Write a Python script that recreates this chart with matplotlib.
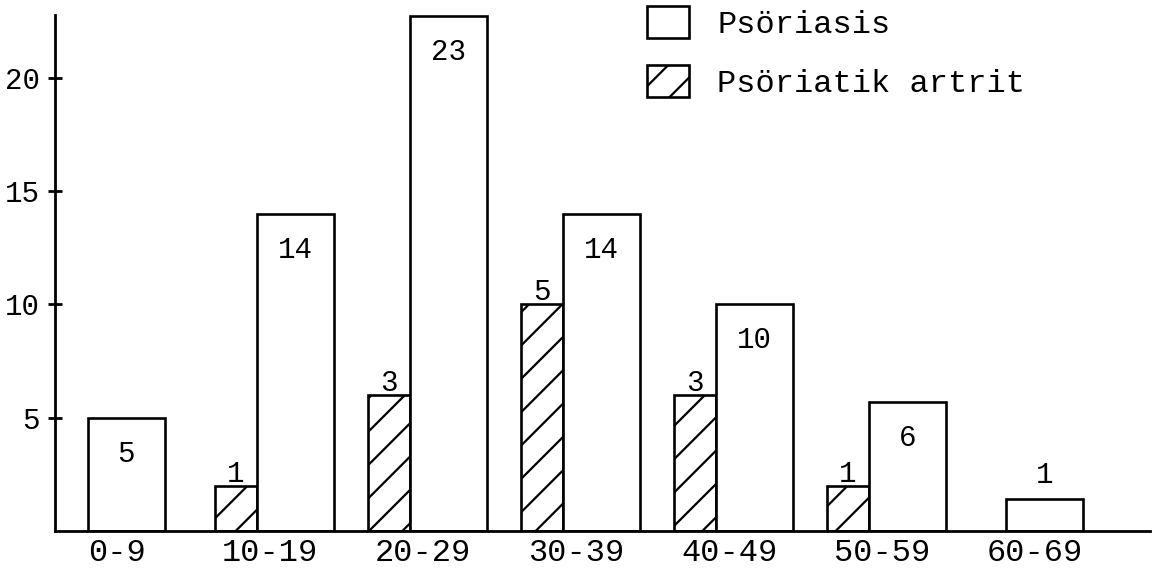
import matplotlib
matplotlib.use("Agg")
import matplotlib.pyplot as plt
import numpy as np
from matplotlib.patches import Patch

# ---- data ----
age_groups = ["0-9", "10-19", "20-29", "30-39", "40-49", "50-59", "60-69"]
psoriasis_height = [5, 14, 22.7, 14, 10, 5.7, 1.4]
psoriasis_labels = ["5", "14", "23", "14", "10", "6", "1"]
artrit_height = [None, 2, 6, 10, 6, 2, None]
artrit_labels = [None, "1", "3", "5", "3", "1", None]
yticks = [5, 10, 15, 20]
legend_labels = ["Psöriasis", "Psöriatik artrit"]

plt.rcParams['font.family'] = ['Liberation Mono', 'DejaVu Sans Mono']
plt.rcParams['hatch.linewidth'] = 1.6
FS = 21

W, H = 1156, 574
fig = plt.figure(figsize=(W / 100, H / 100), dpi=100)
left_px, right_px, bottom_px, top_px = 55, 1150, 531, 15
ax = fig.add_axes([left_px / W, 1 - bottom_px / H,
                   (right_px - left_px) / W, (bottom_px - top_px) / H])

pitch = 153.0
x0 = 62.0
ax.set_xlim((left_px - x0) / pitch, (right_px - x0) / pitch)
ax.set_ylim(0, 22.76)

w_h = 0.275
w_p = 0.50
lw = 1.9
idx = np.arange(len(age_groups))

for i in idx:
    if artrit_height[i] is not None:
        ax.bar(i, artrit_height[i], width=w_h, align='edge', facecolor='white',
               edgecolor='black', hatch='/', linewidth=lw)
        ax.annotate(artrit_labels[i], (i + w_h / 2, artrit_height[i]),
                    xytext=(0, 12), textcoords='offset pixels',
                    ha='center', va='center', fontsize=FS)
        px_left = i + w_h
    else:
        px_left = i + 0.17
    ax.bar(px_left, psoriasis_height[i], width=w_p, align='edge',
           facecolor='white', edgecolor='black', linewidth=lw)
    off = -36 if psoriasis_height[i] > 3 else 24
    ax.annotate(psoriasis_labels[i], (px_left + w_p / 2, psoriasis_height[i]),
                xytext=(0, off), textcoords='offset pixels',
                ha='center', va='center', fontsize=FS)

for s in ['top', 'right']:
    ax.spines[s].set_visible(False)
ax.spines['left'].set_linewidth(2)
ax.spines['bottom'].set_linewidth(2)

ax.set_yticks(yticks)
ax.set_yticklabels([str(t) for t in yticks], fontsize=FS)
ax.tick_params(axis='y', direction='inout', length=10, width=2, pad=6)
ax.set_xticks(idx + 0.36)
ax.set_xticklabels(age_groups, fontsize=23)
ax.tick_params(axis='x', length=0, pad=5)

# legend
handles = [Patch(facecolor='white', edgecolor='black', linewidth=lw),
           Patch(facecolor='white', edgecolor='black', linewidth=lw, hatch='/')]
leg = ax.legend(handles, legend_labels, loc='upper left',
                bbox_to_anchor=(647 / W, 1 - 6 / H), bbox_transform=fig.transFigure,
                frameon=False, fontsize=23, handlelength=1.3, handleheight=1.15,
                handletextpad=0.9, labelspacing=0.8, borderpad=0, borderaxespad=0)

fig.savefig("out.png", dpi=100)
